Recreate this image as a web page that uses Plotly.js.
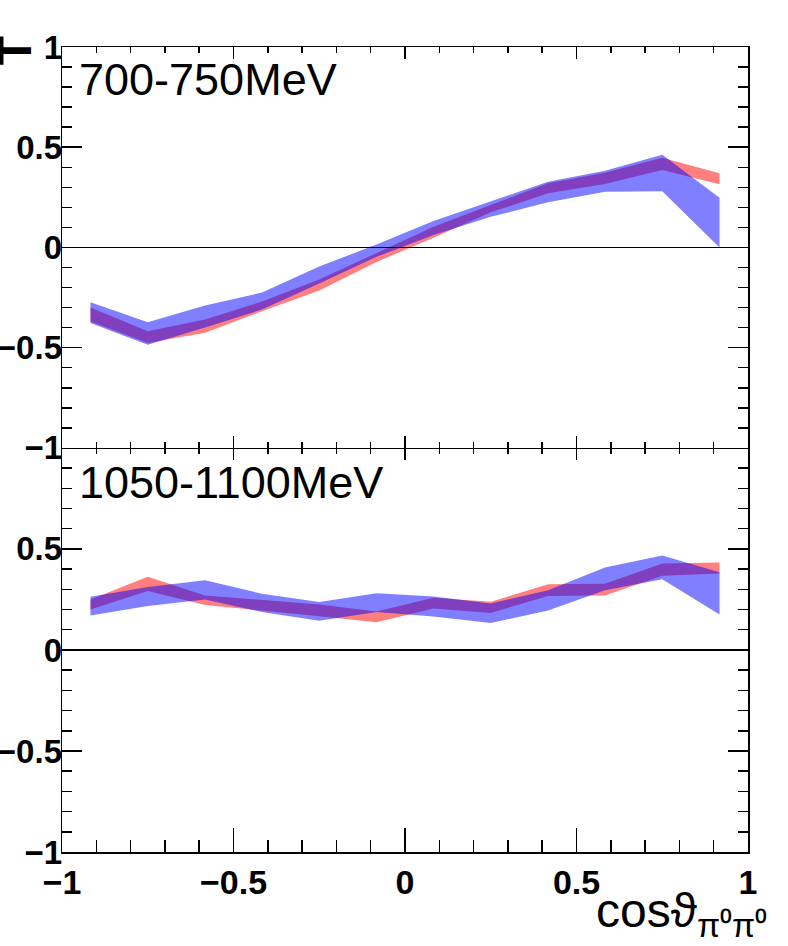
<!DOCTYPE html>
<html>
<head>
<meta charset="utf-8">
<script src="https://cdn.plot.ly/plotly-3.0.1.min.js"></script>
<style>
  body { margin: 0; background: #fff; }
  #plot { width: 788px; height: 946px; }
</style>
</head>
<body>
<div id="plot"></div>
<script>
// bin centres in cos(theta), 12 bins
var xCenters = [-0.917, -0.75, -0.583, -0.417, -0.25, -0.083, 0.083, 0.25, 0.417, 0.583, 0.75, 0.917];

// 700-750 MeV: red and blue bands (low / high edge)
var topRedLo  = [-0.37, -0.477, -0.425, -0.318, -0.215, -0.072, 0.048, 0.175, 0.27, 0.317, 0.386, 0.315];
var topRedHi  = [-0.30, -0.418, -0.36, -0.27, -0.16, -0.03, 0.103, 0.212, 0.32, 0.373, 0.448, 0.37];
var topBlueLo = [-0.377, -0.485, -0.40, -0.31, -0.18, -0.047, 0.062, 0.153, 0.225, 0.278, 0.28, 0.0];
var topBlueHi = [-0.273, -0.373, -0.29, -0.225, -0.095, 0.015, 0.132, 0.228, 0.328, 0.383, 0.462, 0.248];

// 1050-1100 MeV
var botRedLo  = [0.20, 0.292, 0.222, 0.195, 0.167, 0.137, 0.205, 0.183, 0.267, 0.27, 0.367, 0.378];
var botRedHi  = [0.25, 0.362, 0.27, 0.248, 0.225, 0.19, 0.258, 0.238, 0.325, 0.328, 0.428, 0.433];
var botBlueLo = [0.17, 0.217, 0.25, 0.188, 0.145, 0.188, 0.165, 0.133, 0.195, 0.295, 0.35, 0.175];
var botBlueHi = [0.263, 0.312, 0.345, 0.278, 0.237, 0.28, 0.265, 0.23, 0.295, 0.408, 0.467, 0.385];

var panelLabels = ["700-750MeV", "1050-1100MeV"];
var axisTicks = [-1, -0.5, 0, 0.5, 1];
var axisTickText = ["\u22121", "\u22120.5", "0", "0.5", "1"];

var FONT = "Liberation Sans, Arial, Helvetica, sans-serif";
var RED = "rgba(255,0,0,0.5)";
var BLUE = "rgba(0,0,255,0.5)";

function band(xa, ya, lo, hi, color) {
    var lower = {x: xCenters, y: lo, xaxis: xa, yaxis: ya, mode: 'lines',
                 line: {width: 0, color: color}, hoverinfo: 'skip'};
    var upper = {x: xCenters, y: hi, xaxis: xa, yaxis: ya, mode: 'lines',
                 line: {width: 0, color: color}, fill: 'tonexty', fillcolor: color, hoverinfo: 'skip'};
    return [lower, upper];
}

// empty trace, only so that a labels-only axis gets drawn
function holder(xa, ya) {
    return {x: [], y: [], xaxis: xa, yaxis: ya, mode: 'lines', hoverinfo: 'skip'};
}

function xAxis(anchor, majorLen, minorLen, labels) {
    return {anchor: anchor, range: [-1, 1], tickvals: axisTicks, ticktext: axisTickText,
        showticklabels: labels, ticks: 'inside', ticklen: majorLen, tickwidth: 1.5, tickcolor: 'black',
        minor: {dtick: 0.1, ticks: 'inside', ticklen: minorLen, tickwidth: 1.5, tickcolor: 'black'},
        showline: true, linecolor: 'black', linewidth: 1.5, showgrid: false, zeroline: false,
        tickfont: {family: FONT, size: 34, color: 'black', weight: 'bold'}};
}

function yAxis(anchor, domain) {
    return {anchor: anchor, domain: domain, range: [-1, 1], tickvals: axisTicks,
        showticklabels: false,
        ticks: 'inside', ticklen: 20, tickwidth: 1.5, tickcolor: 'black', mirror: 'ticks',
        minor: {dtick: 0.1, ticks: 'inside', ticklen: 10, tickwidth: 1.5, tickcolor: 'black'},
        showline: true, linecolor: 'black', linewidth: 1.5, showgrid: false,
        zeroline: true, zerolinecolor: 'black', zerolinewidth: 1.2, zerolinelayer: 'above traces'};
}

// labels-only axis on the frame; the thin-space suffix keeps a small gap to the line
function yLabels(over, nTicks) {
    return {overlaying: over, anchor: 'free', position: 0, range: [-1, 1],
        tickvals: axisTicks.slice(0, nTicks), ticktext: axisTickText.slice(0, nTicks),
        ticksuffix: '\u2009', ticks: '', showline: false, showgrid: false, zeroline: false,
        tickfont: {family: FONT, size: 33, color: 'black', weight: 'bold'}};
}

var data = [].concat(
    band('x', 'y', topRedLo, topRedHi, RED),
    band('x', 'y', topBlueLo, topBlueHi, BLUE),
    band('x2', 'y2', botRedLo, botRedHi, RED),
    band('x2', 'y2', botBlueLo, botBlueHi, BLUE),
    [holder('x', 'y3'), holder('x2', 'y4'), holder('x3', 'y2')]
);

var split = 0.502;
var layout = {
    width: 788, height: 946,
    margin: {l: 62, r: 40, t: 47, b: 94},
    paper_bgcolor: 'white', plot_bgcolor: 'white',
    showlegend: false,
    xaxis: xAxis('y', 12, 6, false),
    xaxis2: xAxis('y2', 24, 12, true),
    xaxis3: xAxis('y2', 12, 6, false),
    yaxis: yAxis('x', [split, 1]),
    yaxis2: yAxis('x2', [0, split]),
    yaxis3: yLabels('y', 5),
    yaxis4: yLabels('y2', 4),
    annotations: [
        {text: panelLabels[0], xref: 'paper', yref: 'paper', x: 0.0219, y: 0.994,
         xanchor: 'left', yanchor: 'top', showarrow: false,
         font: {family: FONT, size: 45, color: 'black'}},
        {text: panelLabels[1], xref: 'paper', yref: 'paper', x: 0.0219, y: 0.4926,
         xanchor: 'left', yanchor: 'top', showarrow: false,
         font: {family: FONT, size: 45, color: 'black'}},
        {text: 'cos\u03d1<sub>\u03c0\u2070\u03c0\u2070</sub>', xref: 'paper', yref: 'paper',
         x: 1.03, y: -0.117, xanchor: 'right', yanchor: 'bottom', showarrow: false,
         font: {family: FONT, size: 48, color: 'black'}},
        {text: 'T', xref: 'paper', yref: 'paper', x: -0.07, y: 0.996, textangle: -90,
         xanchor: 'center', yanchor: 'middle', showarrow: false,
         font: {family: FONT, size: 48, color: 'black', weight: 'bold'}}
    ]
};
layout.xaxis.mirror = 'ticks';
layout.xaxis2.mirror = false;
layout.xaxis3.overlaying = 'x2';
layout.xaxis3.side = 'top';
layout.xaxis3.showline = false;

Plotly.newPlot('plot', data, layout, {displayModeBar: false, staticPlot: true});
</script>
</body>
</html>
